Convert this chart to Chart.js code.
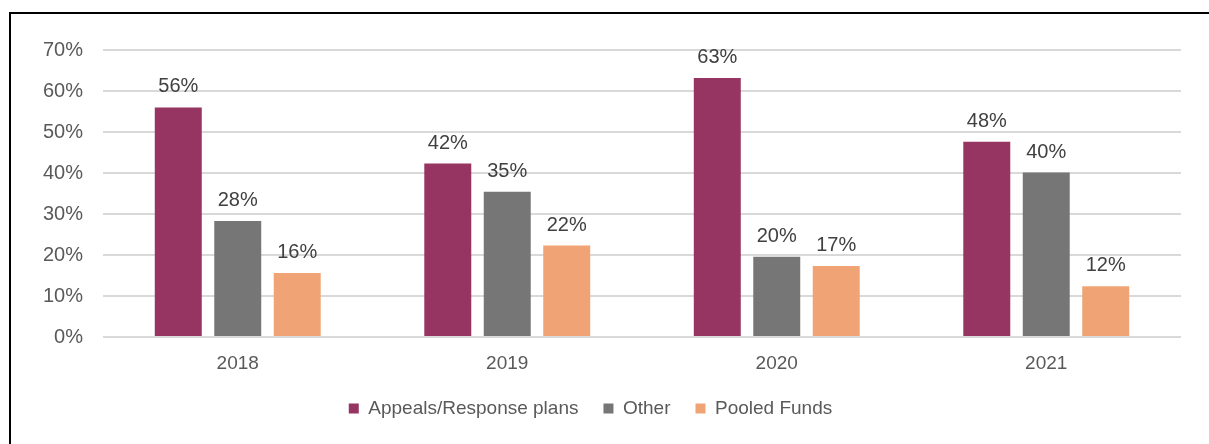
<!DOCTYPE html>
<html>
<head>
<meta charset="utf-8">
<script src="https://cdn.jsdelivr.net/npm/chart.js@4"></script>
<style>
  html, body { margin: 0; padding: 0; background: #fff; }
  body { width: 1209px; height: 444px; overflow: hidden; position: relative; }
  .frame { position: absolute; left: 9px; top: 12px; width: 1300px; height: 500px;
           border-top: 2px solid #000; border-left: 2px solid #000; }
  #wrap { position: absolute; left: 0; top: 0; width: 1209px; height: 444px; }
</style>
</head>
<body>
<div class="frame"></div>
<div id="wrap"><canvas id="chart" width="1209" height="444"></canvas></div>
<script>
const years = ['2018', '2019', '2020', '2021'];
const appealsShare = [56.0, 42.3, 63.2, 47.6];
const otherShare   = [28.3, 35.4, 19.6, 40.1];
const pooledShare  = [15.6, 22.3, 17.3, 12.4];
const seriesNames  = ['Appeals/Response plans', 'Other', 'Pooled Funds'];
const yTicks       = [0, 10, 20, 30, 40, 50, 60, 70];

const FONT = "'Liberation Sans', Arial, sans-serif";

// Writes each bar's value above it
const valueLabels = {
  id: 'valueLabels',
  afterDatasetsDraw(chart) {
    const ctx = chart.ctx;
    ctx.save();
    ctx.font = '20px ' + FONT;
    ctx.fillStyle = '#404040';
    ctx.textAlign = 'center';
    ctx.textBaseline = 'alphabetic';
    chart.data.datasets.forEach((ds, i) => {
      chart.getDatasetMeta(i).data.forEach((bar, j) => {
        ctx.fillText(Math.round(ds.data[j]) + '%', bar.x, bar.y - 15);
      });
    });
    ctx.restore();
  }
};

new Chart(document.getElementById('chart'), {
  type: 'bar',
  data: {
    labels: years,
    datasets: [
      { label: seriesNames[0], data: appealsShare, backgroundColor: '#963462' },
      { label: seriesNames[1], data: otherShare,   backgroundColor: '#767676' },
      { label: seriesNames[2], data: pooledShare,  backgroundColor: '#F0A475' }
    ]
  },
  options: {
    responsive: false,
    animation: false,
    devicePixelRatio: 1,
    layout: { padding: { left: 0, right: 28, top: 50, bottom: 16 } },
    datasets: { bar: { categoryPercentage: 0.662, barPercentage: 0.79 } },
    plugins: {
      legend: {
        position: 'bottom',
        labels: {
          font: { family: FONT, size: 19 },
          color: '#595959',
          boxWidth: 10,
          boxHeight: 10,
          padding: 25
        }
      },
      tooltip: { enabled: false }
    },
    scales: {
      x: {
        grid: { display: false },
        border: { display: false },
        ticks: { font: { family: FONT, size: 19 }, color: '#595959', padding: 7 },
        afterFit(scale) { scale.height = 37; }
      },
      y: {
        min: 0, max: 70,
        afterBuildTicks(scale) { scale.ticks = yTicks.map(v => ({ value: v })); },
        grid: { color: '#d9d9d9', lineWidth: 2, drawTicks: false },
        border: { display: false },
        ticks: {
          font: { family: FONT, size: 20 },
          color: '#595959',
          padding: 20,
          callback: v => v + '%'
        },
        afterFit(scale) { scale.width = 103; }
      }
    }
  },
  plugins: [valueLabels]
});
</script>
</body>
</html>
